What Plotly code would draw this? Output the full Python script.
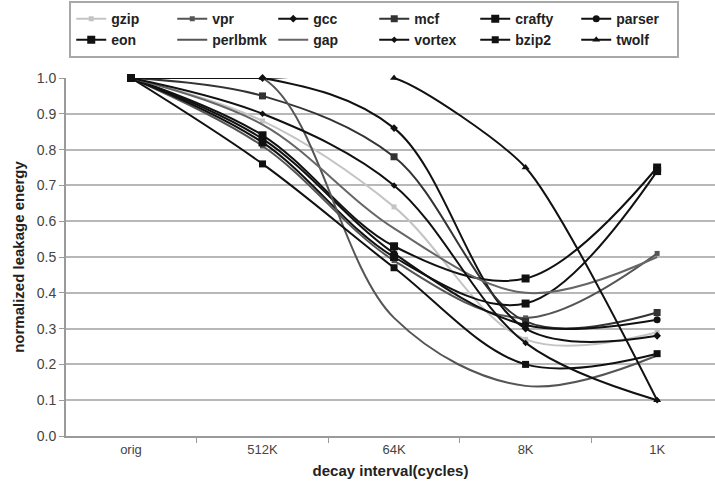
import plotly.graph_objects as go

# Decay intervals on the x axis
intervals = ["orig", "512K", "64K", "8K", "1K"]

# Normalized leakage energy per benchmark
gzip = [1.00, 0.88, 0.64, 0.27, 0.29]
vpr = [1.00, 0.81, 0.49, 0.33, 0.51]
gcc = [1.00, 1.00, 0.86, 0.30, 0.28]
mcf = [1.00, 0.95, 0.78, 0.32, 0.345]
crafty = [1.00, 0.84, 0.53, 0.44, 0.75]
parser = [1.00, 0.83, 0.51, 0.31, 0.325]
eon = [1.00, 0.82, 0.50, 0.37, 0.74]
perlbmk = [1.00, 1.00, 0.33, 0.14, 0.225]
gap = [1.00, 0.87, 0.58, 0.40, 0.50]
vortex = [1.00, 0.90, 0.70, 0.26, 0.10]
bzip2 = [1.00, 0.76, 0.47, 0.20, 0.23]
twolf = [1.00, 1.00, 1.00, 0.75, 0.10]

y_ticks = [round(0.1 * i, 1) for i in range(11)]

# name, values, colour, marker symbol, marker size, spline smoothing
series = [
    ("gzip", gzip, "#c4c4c4", "square", 5, 1.0),
    ("vpr", vpr, "#555555", "square", 5, 1.0),
    ("gcc", gcc, "#111111", "diamond", 6, 1.0),
    ("mcf", mcf, "#333333", "square", 7, 1.0),
    ("crafty", crafty, "#111111", "square", 8, 1.0),
    ("parser", parser, "#111111", "circle", 7, 1.0),
    ("eon", eon, "#111111", "square", 8, 1.0),
    ("perlbmk", perlbmk, "#555555", None, 0, 1.0),
    ("gap", gap, "#666666", None, 0, 1.0),
    ("vortex", vortex, "#111111", "diamond", 5, 1.0),
    ("bzip2", bzip2, "#111111", "square", 7, 1.0),
    ("twolf", twolf, "#111111", "triangle-up", 7, 0.6),
]

fig = go.Figure()
for name, vals, color, sym, size, smooth in series:
    kw = dict(
        x=intervals, y=vals, name=name,
        line=dict(color=color, width=2, shape="spline", smoothing=smooth),
        cliponaxis=False,
    )
    if sym:
        kw["mode"] = "lines+markers"
        kw["marker"] = dict(symbol=sym, size=size, color=color)
    else:
        kw["mode"] = "lines"
    fig.add_trace(go.Scatter(**kw))

fig.update_layout(
    width=715, height=494,
    margin=dict(l=66, r=0, t=78, b=58),
    paper_bgcolor="white", plot_bgcolor="white",
    font=dict(family="Liberation Sans, Arial, sans-serif", color="#222222", size=13),
    legend=dict(
        orientation="h", x=0.005, xanchor="left", y=1.215, yanchor="top",
        entrywidth=56, entrywidthmode="pixels",
        font=dict(size=14, color="#222222", weight="bold"),
        bordercolor="#a8a8a8", borderwidth=2, bgcolor="white",
        traceorder="normal", itemwidth=30,
    ),
)

fig.update_xaxes(
    type="category", range=[-0.494, 4.44],
    tickson="boundaries", ticks="outside", ticklen=5, tickcolor="#9a9a9a",
    showline=True, linecolor="#9a9a9a", linewidth=2,
    showgrid=False, tickfont=dict(size=13, color="#444444"),
    title=dict(text="decay interval(cycles)", standoff=10,
               font=dict(size=15, color="#222222", weight="bold")),
)
fig.update_yaxes(
    range=[0, 1], tickvals=y_ticks, tickformat=".1f",
    ticks="outside", ticklen=5, tickcolor="#9a9a9a",
    showline=True, linecolor="#9a9a9a", linewidth=2,
    showgrid=True, gridcolor="#b8b8b8", gridwidth=2,
    zeroline=False, tickfont=dict(size=14, color="#444444"),
    title=dict(text="normalized leakage energy", standoff=8,
               font=dict(size=15, color="#222222", weight="bold")),
)

fig.write_html("out.html")
